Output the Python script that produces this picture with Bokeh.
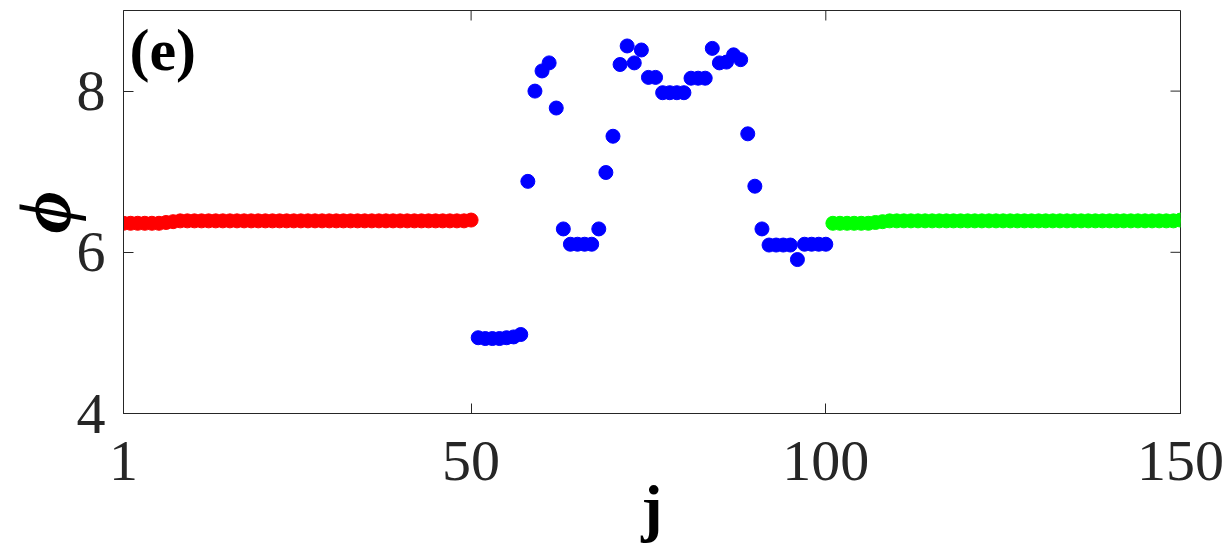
from math import pi
from bokeh.plotting import figure
from bokeh.models import Range1d, FixedTicker, Label
from bokeh.embed import file_html
from bokeh.resources import INLINE

# ---- data ----
j_red = list(range(1, 51))
phi_red = [6.36, 6.36, 6.36, 6.36, 6.36, 6.36, 6.37, 6.38, 6.39, 6.39,
           6.39, 6.39, 6.39, 6.39, 6.39, 6.39, 6.39, 6.39, 6.39, 6.39,
           6.39, 6.39, 6.39, 6.39, 6.39, 6.39, 6.39, 6.39, 6.39, 6.39,
           6.39, 6.39, 6.39, 6.39, 6.39, 6.39, 6.39, 6.39, 6.39, 6.39,
           6.39, 6.39, 6.39, 6.39, 6.39, 6.39, 6.39, 6.39, 6.39, 6.40]

j_blue = list(range(51, 101))
phi_blue = [4.94, 4.93, 4.93, 4.93, 4.94, 4.95, 4.98, 6.88, 8.00, 8.25,
            8.35, 7.79, 6.29, 6.10, 6.10, 6.10, 6.10, 6.29, 6.99, 7.44,
            8.33, 8.56, 8.35, 8.51, 8.17, 8.17, 7.98, 7.98, 7.98, 7.98,
            8.16, 8.16, 8.16, 8.53, 8.35, 8.36, 8.45, 8.39, 7.47, 6.82,
            6.29, 6.09, 6.09, 6.09, 6.09, 5.91, 6.10, 6.10, 6.10, 6.10]

j_green = list(range(101, 151))
phi_green = [6.36, 6.36, 6.36, 6.36, 6.36, 6.36, 6.37, 6.38, 6.39, 6.39,
             6.39, 6.39, 6.39, 6.39, 6.39, 6.39, 6.39, 6.39, 6.39, 6.39,
             6.39, 6.39, 6.39, 6.39, 6.39, 6.39, 6.39, 6.39, 6.39, 6.39,
             6.39, 6.39, 6.39, 6.39, 6.39, 6.39, 6.39, 6.39, 6.39, 6.39,
             6.39, 6.39, 6.39, 6.39, 6.39, 6.39, 6.39, 6.39, 6.39, 6.40]

x_ticks = [1, 50, 100, 150]
y_ticks = [4, 6, 8]
x_lim = (1, 150)
y_lim = (4, 9)

FONT = "Liberation Serif"
AX = "#262626"

p = figure(frame_width=1057, frame_height=403,
           x_range=Range1d(*x_lim), y_range=Range1d(*y_lim),
           output_backend="svg", toolbar_location=None,
           min_border_left=122, min_border_right=46,
           min_border_top=10, min_border_bottom=110)

p.grid.visible = False
p.outline_line_color = AX
p.outline_line_alpha = 1
p.outline_line_width = 1

for ax in [p.xaxis[0], p.yaxis[0]]:
    ax.major_label_text_font = FONT
    ax.major_label_text_font_size = "58px"
    ax.major_label_text_color = AX
    ax.major_tick_in = 10
    ax.major_tick_out = 0
    ax.minor_tick_line_color = None
    ax.axis_line_color = AX
    ax.major_tick_line_color = AX
    ax.axis_label_text_font = FONT
    ax.axis_label_text_color = "black"

p.xaxis.ticker = FixedTicker(ticks=x_ticks)
p.yaxis.ticker = FixedTicker(ticks=y_ticks)
p.xaxis.major_label_standoff = 28
p.yaxis.major_label_standoff = 18

p.xaxis.axis_label = "j"
p.xaxis.axis_label_text_font_style = "bold"
p.xaxis.axis_label_text_font_size = "64px"
p.xaxis.axis_label_standoff = -11

p.yaxis.axis_label = "ϕ"
p.yaxis.axis_label_text_font_style = "bold italic"
p.yaxis.axis_label_text_font_size = "74px"
p.yaxis.axis_label_standoff = -12

# inward ticks on the right and top edges of the box
p.ray(x=[x_lim[1]] * len(y_ticks), y=y_ticks, length=10, length_units="screen",
      angle=pi, line_color=AX, line_width=1)
p.ray(x=x_ticks, y=[y_lim[1]] * len(x_ticks), length=10, length_units="screen",
      angle=-pi / 2, line_color=AX, line_width=1)

p.scatter(j_red, phi_red, size=14, fill_color="#FF0000", line_color="#FF0000")
p.scatter(j_blue, phi_blue, size=14, fill_color="#0000FF", line_color="#0000FF")
p.scatter(j_green, phi_green, size=14, fill_color="#00FF00", line_color="#00FF00")

p.add_layout(Label(x=x_lim[0], y=y_lim[1], x_offset=6, y_offset=-6, text="(e)",
                   text_font=FONT, text_font_style="bold", text_font_size="60px",
                   text_baseline="top", text_align="left", text_color="black"))

open("out.html", "w").write(file_html(p, INLINE))
